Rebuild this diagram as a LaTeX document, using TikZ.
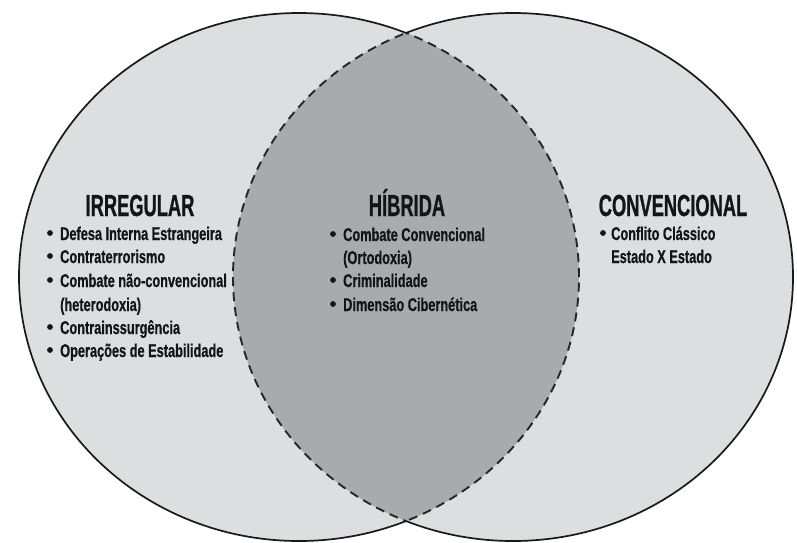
\documentclass[tikz,border=0pt]{standalone}
\usepackage{fontspec}
\setmainfont{Liberation Sans}
\newfontfamily\titlefont[FakeStretch=0.6,FakeBold=0.8]{Liberation Sans}
\newfontfamily\itemfont[FakeStretch=0.69,FakeBold=0.6]{Liberation Sans}
\definecolor{lightfill}{HTML}{DCDEE0}
\definecolor{darkfill}{HTML}{A8AAAD}
\definecolor{textcol}{HTML}{141414}
\tikzset{
  solidline/.style={draw=black!90, line width=1.7pt},
  dashline/.style={draw=black!85, line width=1.9pt, dash pattern=on 9pt off 6pt},
  vtitle/.style={font=\titlefont\bfseries\fontsize{30.5}{30.5}\selectfont, text=textcol, inner sep=0pt, anchor=base},
  vitem/.style={font=\itemfont\bfseries\fontsize{18.5}{18.5}\selectfont, text=textcol, inner sep=0pt, anchor=base west},
  vbullet/.style={circle, fill=textcol, inner sep=0pt, minimum size=5.8pt}
}
\begin{document}
\begin{tikzpicture}[x=1pt,y=-1pt]
\useasboundingbox (0,0) rectangle (797,542);
\fill[white] (0,0) rectangle (797,542);
% circles
\fill[lightfill] (299,277) ellipse [x radius=280pt, y radius=264pt];
\fill[lightfill] (513,277) ellipse [x radius=280pt, y radius=264pt];
\begin{scope}
  \clip (299,277) ellipse [x radius=280pt, y radius=264pt];
  \fill[darkfill] (513,277) ellipse [x radius=280pt, y radius=264pt];
  \draw[dashline] (513,277) ellipse [x radius=280pt, y radius=264pt];
\end{scope}
\begin{scope}
  \clip (513,277) ellipse [x radius=280pt, y radius=264pt];
  \draw[dashline] (299,277) ellipse [x radius=280pt, y radius=264pt];
\end{scope}
\begin{scope}[even odd rule]
  \clip (-10,-10) rectangle (807,552) (513,277) ellipse [x radius=280pt, y radius=264pt];
  \draw[solidline] (299,277) ellipse [x radius=280pt, y radius=264pt];
\end{scope}
\begin{scope}[even odd rule]
  \clip (-10,-10) rectangle (807,552) (299,277) ellipse [x radius=280pt, y radius=264pt];
  \draw[solidline] (513,277) ellipse [x radius=280pt, y radius=264pt];
\end{scope}
% IRREGULAR
\node[vtitle] (tirr) at (140,216) {IRREGULAR};
\node[vbullet] (bi1) at (50,233) {};
\node[vitem] (i1) at (60,240) {Defesa Interna Estrangeira};
\node[vbullet] (bi2) at (50,256) {};
\node[vitem] (i2) at (60,263) {Contraterrorismo};
\node[vbullet] (bi3) at (50,280) {};
\node[vitem] (i3) at (60,287) {Combate não-convencional};
\node[vitem] (i4) at (60,311) {(heterodoxia)};
\node[vbullet] (bi5) at (50,327) {};
\node[vitem] (i5) at (60,334) {Contrainssurgência};
\node[vbullet] (bi6) at (50,350) {};
\node[vitem] (i6) at (60,357) {Operações de Estabilidade};
% HIBRIDA
\node[vtitle] (thib) at (407,216) {HÍBRIDA};
\node[vbullet] (bh1) at (333,234) {};
\node[vitem] (h1) at (343,241) {Combate Convencional};
\node[vitem] (h2) at (343,264) {(Ortodoxia)};
\node[vbullet] (bh3) at (333,280) {};
\node[vitem] (h3) at (343,287) {Criminalidade};
\node[vbullet] (bh4) at (333,304) {};
\node[vitem] (h4) at (343,311) {Dimensão Cibernética};
% CONVENCIONAL
\node[vtitle] (tcon) at (673,216) {CONVENCIONAL};
\node[vbullet] (bc1) at (603,233) {};
\node[vitem] (c1) at (611,240) {Conflito Clássico};
\node[vitem] (c2) at (611,263) {Estado X Estado};
\end{tikzpicture}
\end{document}
